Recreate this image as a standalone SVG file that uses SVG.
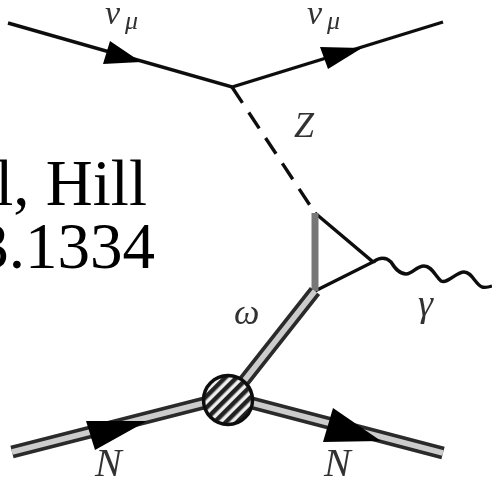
<svg xmlns="http://www.w3.org/2000/svg" width="492" height="479" viewBox="0 0 492 479">
<style>
.ln{fill:none;stroke:#111;stroke-width:3.4}
.dbl{fill:none;stroke:#2a2a2a;stroke-width:13}
.dbi{fill:none;stroke:#ccc;stroke-width:5.5}
.big{font-family:"Liberation Serif",serif;font-size:65px;fill:#000}
.lab{font-family:"Liberation Serif",serif;font-style:italic;fill:#333}
.ah{fill:#000;stroke:none}
</style>
<defs>
<pattern id="hatch" width="8" height="8" patternUnits="userSpaceOnUse" patternTransform="rotate(-45)">
<rect width="8" height="8" fill="#eee"/><rect width="8" height="4.5" fill="#222"/>
</pattern>
<filter id="soft" x="-5%" y="-5%" width="110%" height="110%"><feGaussianBlur stdDeviation="0.7"/></filter>
</defs>
<g id="caption">
<text class="big" x="147" y="205" text-anchor="end">l, Hill</text>
<text class="big" x="155" y="268" text-anchor="end">3.1334</text>
</g>
<g id="connectors" filter="url(#soft)">
<path class="ln" d="M8 23L232 87L443 22"/>
<path class="ln" d="M232 87L315 213" stroke-dasharray="19 11.5"/>
<path class="ln" d="M315 213L373 262L315 291"/>
<path d="M315 213V291" fill="none" stroke="#777" stroke-width="7"/>
<path class="ln" d="M373 262C380 257 386 257 391 262C396 270 400 274 406 274C413 274 416 266 424 266C432 266 435 276 441 281C448 284 456 272 464 272C472 272 475 284 482 287C486 288 489 287 492 286" stroke-width="3"/>
<path class="dbl" d="M315 291L244 381M12 452L204 403M252 403L443 453"/>
<path class="dbi" d="M315 291L244 381M12 452L204 403M252 403L443 453"/>
<polygon class="ah" points="110,41 103,64 141,62"/>
<polygon class="ah" points="320,47 328,69 362,48"/>
<polygon class="ah" points="86,421 95,450 147,421"/>
<polygon class="ah" points="333,408 323,442 381,441"/>
</g>
<g id="blob" filter="url(#soft)">
<circle cx="228" cy="400" r="24.5" fill="url(#hatch)" stroke="#111" stroke-width="3.5"/>
</g>
<g id="labels" filter="url(#soft)">
<text class="lab" x="105" y="24" font-size="34">ν</text>
<text class="lab" x="125" y="29" font-size="26">μ</text>
<text class="lab" x="307" y="24" font-size="34">ν</text>
<text class="lab" x="327" y="29" font-size="26">μ</text>
<text class="lab" x="294" y="137" font-size="36">Z</text>
<text class="lab" x="234" y="324" font-size="36">ω</text>
<text class="lab" x="418" y="316" font-size="38">γ</text>
<text class="lab" x="95" y="476" font-size="40">N</text>
<text class="lab" x="324" y="476" font-size="40">N</text>
</g>
</svg>
